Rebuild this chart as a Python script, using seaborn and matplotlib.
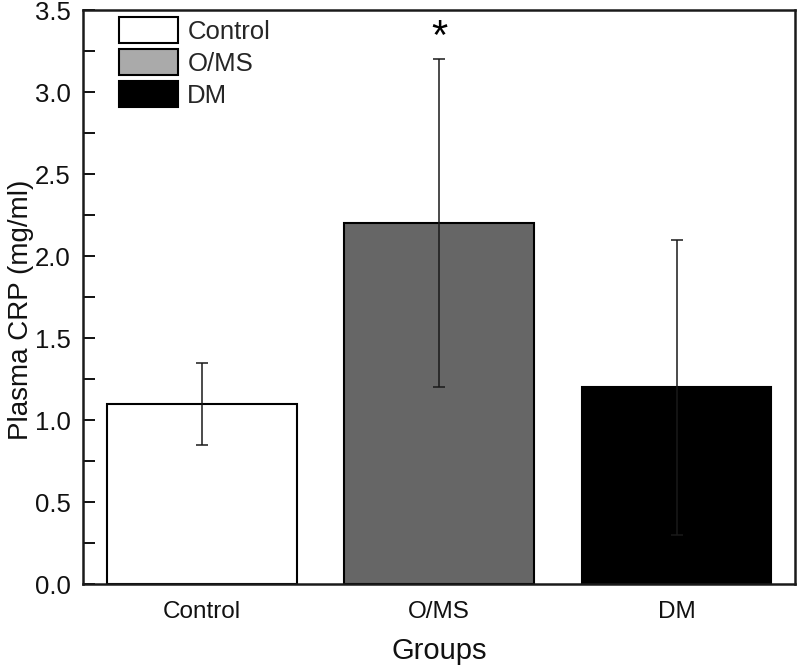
import matplotlib
matplotlib.use("Agg")
import matplotlib.pyplot as plt
from matplotlib.patches import Patch
from matplotlib.ticker import MultipleLocator
import seaborn as sns
import pandas as pd

groups = ["Control", "O/MS", "DM"]
crp_mean = [1.1, 2.2, 1.2]
crp_err = [0.25, 1.0, 0.9]
bar_colors = ["#ffffff", "#666666", "#000000"]
legend_colors = ["#ffffff", "#aaaaaa", "#000000"]

sns.set_theme(style="white")
plt.rcParams["font.family"] = ["Liberation Sans", "DejaVu Sans"]

df = pd.DataFrame({"Group": groups, "CRP": crp_mean})

fig = plt.figure(figsize=(8, 6.69), dpi=100)
ax = fig.add_axes([0.104, 0.127, 0.89, 0.858])

sns.barplot(data=df, x="Group", y="CRP", hue="Group", palette=bar_colors,
            order=groups, hue_order=groups, errorbar=None, width=0.8,
            edgecolor="black", linewidth=1.5, legend=False, ax=ax, zorder=2)

ax.errorbar(range(len(groups)), crp_mean, yerr=crp_err, fmt="none",
            ecolor="#1a1a1a", elinewidth=1.1, capsize=4.3, capthick=1.1, zorder=3)

ax.text(1, 3.33, "*", ha="center", va="center", fontsize=30, color="black")

ax.set_xlim(-0.5, 2.5)
ax.set_ylim(0, 3.5)
ax.yaxis.set_major_locator(MultipleLocator(0.5))
ax.yaxis.set_minor_locator(MultipleLocator(0.25))
ax.tick_params(axis="y", which="major", direction="in", length=8.5, width=1.4,
               labelsize=18.5, left=True, pad=9, colors="#111111")
ax.tick_params(axis="y", which="minor", direction="in", length=8.5, width=1.4,
               left=True, colors="#111111")
ax.tick_params(axis="x", which="both", bottom=False, labelsize=17.5, pad=6,
               colors="#111111")

for s in ax.spines.values():
    s.set_visible(True)
    s.set_color("#1a1a1a")
    s.set_linewidth(1.8)

ax.set_xlabel("Groups", fontsize=21, labelpad=10, color="#111111")
ax.set_ylabel("Plasma CRP (mg/ml)", fontsize=20, color="#111111")
ax.yaxis.set_label_coords(-0.069, 0.477)

handles = [Patch(facecolor=c, edgecolor="black", linewidth=1.5) for c in legend_colors]
ax.legend(handles, groups, loc="upper left", bbox_to_anchor=(0.0506, 0.988),
          frameon=False, fontsize=18.5, handlelength=2.3, handleheight=1.2,
          handletextpad=0.35, labelspacing=0.2, borderaxespad=0, borderpad=0)

fig.savefig("out.png", dpi=100)
